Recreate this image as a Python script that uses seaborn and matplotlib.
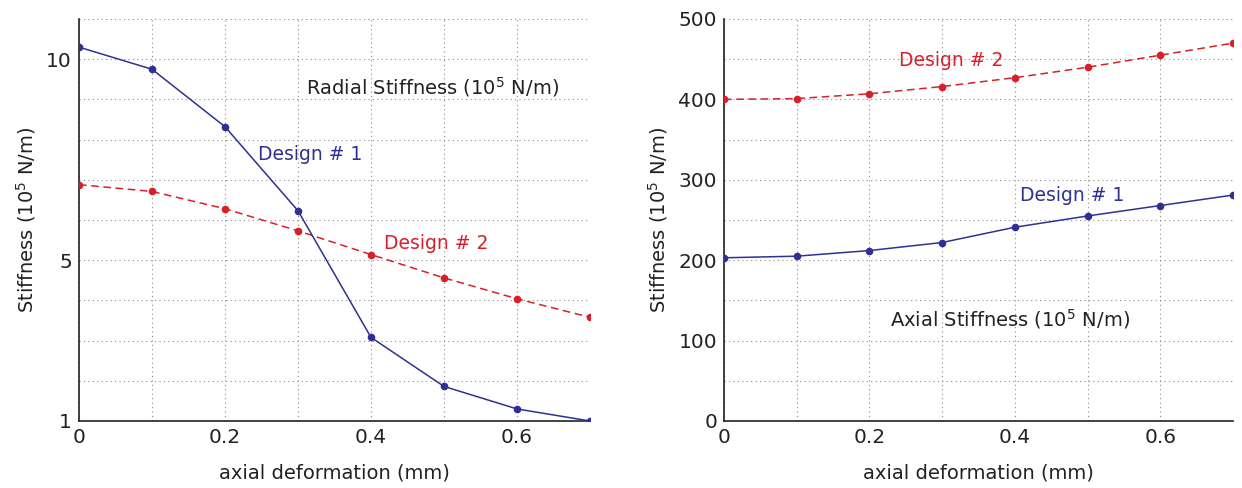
import numpy as np
import pandas as pd
import matplotlib
matplotlib.use("Agg")
import matplotlib.pyplot as plt
import seaborn as sns

# ---- data ----
deformation = [0.0, 0.1, 0.2, 0.3, 0.4, 0.5, 0.6, 0.7]
radial_design1 = [10.3, 9.75, 8.32, 6.23, 3.08, 1.86, 1.30, 1.0]
radial_design2 = [6.88, 6.71, 6.28, 5.73, 5.14, 4.56, 4.04, 3.58]
axial_design1 = [203, 205, 212, 222, 241, 255, 268, 281]
axial_design2 = [400, 401, 407, 416, 427, 440, 455, 470]

x_ticks = [0.0, 0.1, 0.2, 0.3, 0.4, 0.5, 0.6, 0.7]
x_ticklabels = ["0", "", "0.2", "", "0.4", "", "0.6", ""]
radial_yticks = list(range(1, 12))
radial_yticklabels = ["1", "", "", "", "5", "", "", "", "", "10", ""]
axial_yticks = list(range(0, 501, 50))
axial_yticklabels = ["0", "", "100", "", "200", "", "300", "", "400", "", "500"]

BLUE = "#2e3192"
RED = "#d8202a"

sns.set_style("white")
plt.rcParams["font.family"] = ["DejaVu Sans"]

fig = plt.figure(figsize=(12.42, 4.88), dpi=100)
ax1 = fig.add_axes([79 / 1242, 67 / 488, 511 / 1242, 402 / 488])
ax2 = fig.add_axes([724 / 1242, 67 / 488, 509 / 1242, 402 / 488])

def draw(ax, y1, y2):
    df = pd.DataFrame({"x": deformation, "d1": y1, "d2": y2})
    sns.lineplot(data=df, x="x", y="d2", ax=ax, color=RED, linestyle=(0, (5, 3)),
                 linewidth=1.1, marker="o", markersize=5.5, markeredgewidth=0, zorder=3)
    sns.lineplot(data=df, x="x", y="d1", ax=ax, color=BLUE, linestyle="-",
                 linewidth=1.1, marker="o", markersize=5.5, markeredgewidth=0, zorder=3)
    ax.set_xlim(0, 0.7)
    ax.set_xticks(x_ticks)
    ax.set_xticklabels(x_ticklabels)
    ax.grid(True, linestyle=(0, (1, 3)), color="#8a8a8a", linewidth=0.8)
    for s in ["top", "right"]:
        ax.spines[s].set_visible(False)
    for s in ["left", "bottom"]:
        ax.spines[s].set_color("#222222")
        ax.spines[s].set_linewidth(1.2)
    ax.tick_params(direction="in", length=4, width=1, labelsize=14.5, colors="#222222", pad=5)
    ax.set_xlabel("axial deformation (mm)", fontsize=14, color="#222222", labelpad=12)
    ax.set_ylabel("Stiffness (10$^5$ N/m)", fontsize=14, color="#222222", labelpad=6)
    for lbl in ax.get_xticklabels() + ax.get_yticklabels():
        lbl.set_color("#222222")

draw(ax1, radial_design1, radial_design2)
ax1.set_ylim(1, 11)
ax1.set_yticks(radial_yticks)
ax1.set_yticklabels(radial_yticklabels)
ax1.text(0.311, 9.3, "Radial Stiffness (10$^5$ N/m)", fontsize=14, color="#222222", va="center")
ax1.text(0.245, 7.63, "Design # 1", fontsize=13.5, color=BLUE, va="center")
ax1.text(0.418, 5.42, "Design # 2", fontsize=13.5, color=RED, va="center")

draw(ax2, axial_design1, axial_design2)
ax2.set_ylim(0, 500)
ax2.set_yticks(axial_yticks)
ax2.set_yticklabels(axial_yticklabels)
ax2.text(0.24, 448, "Design # 2", fontsize=13.5, color=RED, va="center")
ax2.text(0.407, 281, "Design # 1", fontsize=13.5, color=BLUE, va="center")
ax2.text(0.228, 127, "Axial Stiffness (10$^5$ N/m)", fontsize=14, color="#222222", va="center")

fig.savefig("out.png", dpi=100)
